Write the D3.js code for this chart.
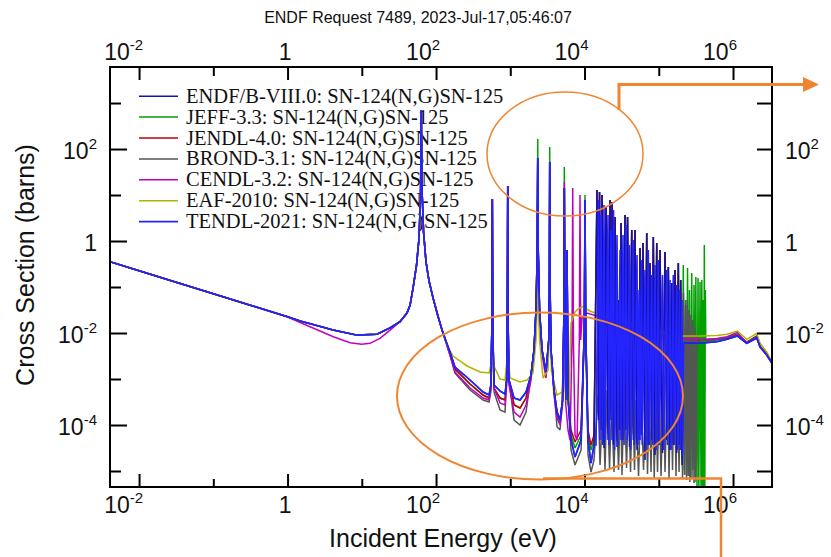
<!DOCTYPE html>
<html>
<head>
<meta charset="utf-8">
<script src="https://cdn.jsdelivr.net/npm/d3@7"></script>
<style>
  html, body { margin: 0; padding: 0; background: #fff; }
  svg { display: block; }
</style>
</head>
<body>
<svg id="chart" width="831" height="557"></svg>
<script>
// ---------------------------------------------------------------
// Sn-124(n,g)Sn-125 capture cross sections, energies in eV, sigma in barns
// ---------------------------------------------------------------

// 1/v region, shared by most evaluations
const lowRange = [[4.06e-3,0.355],[0.01,0.226],[0.03,0.130],[0.1,0.0715],[0.3,0.0413],[1,0.0226],[1.47,0.0182],[2.0,0.0160],[4.1,0.0116],[8.6,0.0090],[16,0.0094],[24,0.0129],[32.7,0.0176]];
// CENDL dips lower before the first resonance
const lowRangeCendl = [[4.06e-3,0.355],[0.01,0.226],[0.03,0.130],[0.1,0.0715],[0.3,0.0413],[1,0.0222],[2.01,0.0137],[4.14,0.00832],[6.95,0.00615],[9.98,0.00568],[12.9,0.00597],[17.6,0.00767],[24.0,0.0116],[32.7,0.0176]];
// the strong 62 eV resonance
const res62 = [[40.6,0.0272],[44.7,0.0406],[49.0,0.095],[54.6,0.30],[59.0,1.16],[61.9,10],[63.2,705],[64.8,12.9],[67.9,1.57],[73.3,0.349],[80.5,0.135],[91.2,0.0577],[106,0.0234],[120.5,0.0116]];

// resolved resonances 150 eV - 13 keV (common energy grid)
const midE = [154,180,287,430,518,547,564,573,582,604,728,849,893,912,924,934,961,1124,1353,1630,1901,2085,2221,2307,2343,2380,2479,2677,3029,3297,3360,3398,3440,3538,3882,4262,4677,5058,5260,5345,5431,5598,5806,6030,6582,7448,8982,9931,10154,10380,11143,12227,13417];
const midEndf = [0.00386,0.00182,0.000951,0.000521,0.000449,0.000741,0.0116,8.18,0.0116,0.000741,0.000548,0.000472,0.000951,0.0192,15.7,0.0192,0.000951,0.000386,0.000349,0.000521,0.00122,0.00427,0.0316,0.637,63.7,0.637,0.0316,0.00427,0.00142,0.00705,0.0861,52.2,0.0861,0.00427,0.000577,0.000191,0.000128,0.000349,0.0192,14.2,0.0192,0.000349,0.637,0.000349,4.72e-5,2.01e-5,4.72e-5,0.0116,7.79,0.0116,4.72e-5,1.49e-5,3.67e-5];
const midJeff = [0.00367,0.00165,0.000779,0.000449,0.000386,0.000637,0.0116,8.18,0.0116,0.000637,0.000386,0.000349,0.000951,0.0192,15.7,0.0192,0.000951,0.000272,0.000234,0.000386,0.00122,0.00427,0.0316,0.637,165,0.637,0.0316,0.00427,0.00142,0.00705,0.0861,110,0.0861,0.00427,0.000577,0.000165,0.000116,0.000349,0.0192,40.6,0.0192,0.000349,0.637,0.000349,6.06e-5,3.16e-5,6.06e-5,0.0116,10.0,0.0116,6.06e-5,2.86e-5,4.72e-5];
const midJendl = [0.00367,0.00165,0.000779,0.000449,0.000386,0.000637,0.0116,8.18,0.0116,0.000637,0.000386,0.000349,0.000951,0.0192,15.7,0.0192,0.000951,0.000272,0.000234,0.000386,0.00122,0.00427,0.0316,0.637,63.7,0.637,0.0316,0.00427,0.00142,0.00705,0.0861,52.2,0.0861,0.00427,0.000577,0.000191,0.000128,0.000349,0.0192,14.2,0.0192,0.000349,0.637,0.000349,7.78e-5,4.27e-5,7.78e-5,0.0116,7.79,0.0116,7.78e-5,3.67e-5,6.06e-5];
const midBrond = [0.00332,0.00135,0.000577,0.000349,0.000316,0.000521,0.0116,8.18,0.0116,0.000521,0.000212,0.000191,0.000951,0.0192,15.7,0.0192,0.000951,0.000128,0.0001,0.000191,0.00122,0.00427,0.0316,0.637,63.7,0.637,0.0316,0.00427,0.00142,0.00705,0.0861,52.2,0.0861,0.00427,0.000577,9.05e-5,7.78e-5,0.000349,0.0192,14.2,0.0192,0.000349,0.637,0.000349,2.86e-5,1.35e-5,2.86e-5,0.0116,7.79,0.0116,2.23e-5,9.51e-6,1.73e-5];

// dense resonance region 15 keV - 200 keV (common energy grid)
const denseE = [1.472e4,1.544e4,1.592e4,1.668e4,1.720e4,1.830e4,1.948e4,2.072e4,2.205e4,2.275e4,2.347e4,2.458e4,2.575e4,2.740e4,2.915e4,3.007e4,3.102e4,3.300e4,3.512e4,3.622e4,3.795e4,4.037e4,4.322e4,4.542e4,4.788e4,5.095e4,5.255e4,5.420e4,5.591e4,5.858e4,6.137e4,6.528e4,6.882e4,7.233e4,7.624e4,8.036e4,8.444e4,8.901e4,9.385e4,9.86e4,1.039e5,1.123e5,1.214e5,1.280e5,1.345e5,1.418e5,1.494e5,1.570e5,1.655e5,1.745e5,1.834e5,1.903e5,1.975e5,2.056e5];
const denseEndf = [12.8,1.28e-4,11.6,7.78e-5,10.0,3.16e-5,5.48,4.72e-5,7.79,1.28e-4,7.04,3.67e-5,3.32,3.32e-5,0.0521,7.78e-5,2.46,4.72e-5,3.67,7.78e-5,3.32,3.32e-5,1.73,4.72e-5,1.73,2.86e-5,0.0192,4.72e-5,0.704,6.06e-5,0.904,1.73e-5,1.49,3.67e-5,0.333,4.72e-5,1.22,2.23e-5,0.904,3.67e-5,0.637,2.46e-5,0.576,4.72e-5,0.272,2.86e-5,0.122,3.67e-5,0.234,2.46e-5,0.333,3.67e-5,0.142,1.35e-5];
const denseJeff = [12.8,1.7e-4,11.6,1.05e-4,10.0,4.3e-5,5.48,6.4e-5,7.79,1.7e-4,7.04,5.0e-5,3.32,4.5e-5,0.0521,1.05e-4,2.46,6.4e-5,3.67,1.05e-4,3.32,4.5e-5,1.73,6.4e-5,1.73,3.9e-5,0.0192,6.4e-5,0.704,8.2e-5,0.904,2.3e-5,1.49,5.0e-5,0.333,6.4e-5,1.22,3.0e-5,0.904,5.0e-5,0.637,3.3e-5,0.576,6.4e-5,0.272,3.9e-5,0.122,5.0e-5,0.234,3.3e-5,0.333,5.0e-5,0.142,1.8e-5];
const denseJendl = [12.8,2.3e-4,11.6,1.4e-4,10.0,5.7e-5,5.48,8.5e-5,7.79,2.3e-4,7.04,6.6e-5,3.32,6.0e-5,0.0521,1.4e-4,2.46,8.5e-5,3.67,1.4e-4,3.32,6.0e-5,1.73,8.5e-5,1.73,5.1e-5,0.0192,8.5e-5,0.704,1.1e-4,0.904,3.1e-5,1.49,6.6e-5,0.333,8.5e-5,1.22,4.0e-5,0.904,6.6e-5,0.637,4.4e-5,0.576,8.5e-5,0.272,5.1e-5,0.122,6.6e-5,0.234,4.4e-5,0.333,6.6e-5,0.142,2.4e-5];

// TENDL resonances in the dense region
const tendlDense = [[1.429e4,3.67e-5],[1.544e4,7.79],[1.617e4,4.72e-5],[1.668e4,3.67],[1.747e4,3.67e-5],[1.830e4,6.06],[1.888e4,4.72e-5],[2.072e4,3.67],[2.138e4,3.67e-5],[2.275e4,1.73],[2.347e4,4.72e-5],[2.458e4,4.72],[2.535e4,2.86e-5],[2.740e4,1.35],[2.826e4,3.67e-5],[3.007e4,0.637],[3.102e4,4.72e-5],[3.300e4,1.35],[3.404e4,3.67e-5],[3.622e4,2.23],[3.736e4,4.72e-5],[4.037e4,0.819],[4.165e4,2.86e-5],[4.542e4,1.05],[4.67e4,3.67e-5],[5.095e4,0.496],[5.255e4,3.67e-5],[5.420e4,0.0861],[5.591e4,4.72e-5],[5.858e4,0.386],[5.985e4,3.67e-5],[6.528e4,0.234],[6.734e4,2.86e-5],[7.233e4,0.637],[7.436e4,3.67e-5],[8.036e4,0.182],[8.24e4,3.67e-5],[8.901e4,0.301],[9.184e4,2.86e-5],[9.86e4,0.386],[1.014e5,3.67e-5],[1.123e5,0.182],[1.159e5,2.86e-5],[1.280e5,0.234],[1.312e5,3.67e-5],[1.418e5,0.142],[1.462e5,2.86e-5],[1.570e5,0.182],[1.615e5,3.67e-5],[1.745e5,0.111],[1.788e5,2.86e-5],[1.903e5,0.0861],[1.951e5,2.86e-5],[2.056e5,0.0521],[2.095e5,2.23e-5]];

// BROND resonances, 15 keV - 330 keV
const brondDense = [[1.520e4,0.000449],[1.617e4,1.35e-5],[1.773e4,0.000349],[1.888e4,1.05e-5],[2.009e4,0.000577],[2.171e4,1.16e-5],[2.310e4,0.000272],[2.496e4,9.51e-6],[2.656e4,0.000521],[2.870e4,1.05e-5],[3.053e4,0.000386],[3.200e4,8.19e-6],[3.404e4,0.000741],[3.679e4,1.16e-5],[3.913e4,0.000449],[4.165e4,9.51e-6],[4.431e4,0.000637],[4.714e4,1.05e-5],[4.926e4,0.000349],[5.337e4,7.79e-6],[5.767e4,0.000521],[6.233e4,1.05e-5],[6.692e4,0.000449],[7.055e4,8.61e-6],[7.436e4,0.000577],[7.862e4,9.51e-6],[8.24e4,0.000951],[8.683e4,7.05e-6],[9.127e4,0.000496],[9.62e4,9.51e-6],[1.014e5,0.000741],[1.072e5,7.79e-6],[1.159e5,0.000951],[1.214e5,9.51e-6],[1.312e5,0.00157],[1.374e5,7.05e-6],[1.462e5,0.00122],[1.532e5,1.05e-5],[1.615e5,0.00201],[1.707e5,7.79e-6],[1.788e5,0.00259],[1.874e5,9.51e-6],[1.993e5,0.00427],[2.089e5,7.05e-6],[2.154e5,0.0741],[2.222e5,8.19e-6],[2.292e5,0.0406],[2.364e5,6.37e-6],[2.424e5,0.0521],[2.492e5,7.79e-6],[2.555e5,0.0316],[2.622e5,5.77e-6],[2.718e5,0.0246],[2.804e5,7.05e-6],[2.877e5,0.0192],[2.983e5,5.49e-6],[3.077e5,0.0135],[3.157e5,6.37e-6],[3.254e5,0.00905]];

// JEFF resonances continue up to about 420 keV
const jeffHigh = [[2.141e5,0.301],[2.209e5,1.05e-5],[2.292e5,0.0521],[2.364e5,8.19e-6],[2.439e5,0.259],[2.516e5,1.05e-5],[2.595e5,0.0861],[2.677e5,7.05e-6],[2.778e5,0.202],[2.877e5,1.05e-5],[2.983e5,0.111],[3.077e5,5.77e-6],[3.157e5,0.165],[3.274e5,3.9e-6],[3.378e5,0.157],[3.464e5,3.9e-6],[3.594e5,0.128],[3.707e5,3.9e-6],[3.80e5,0.142],[3.896e5,3.9e-6],[3.981e5,0.0521],[4.043e5,3.9e-6],[4.106e5,0.819],[4.171e5,3.9e-6],[4.236e5,0.0861]];

// CENDL: own resonances, smooth above 9 keV
const cendlMid = [[154,0.00332],[180,0.00142],[287,0.000637],[430,0.000386],[518,0.000349],[547,0.000637],[564,0.0116],[573,8.18],[582,0.0116],[604,0.000637],[728,0.000301],[849,0.000272],[893,0.000741],[912,0.0192],[924,15.7],[934,0.0192],[961,0.000741],[1124,0.000192],[1353,0.000149],[1630,0.000272],[1901,0.000951],[2085,0.00386],[2221,0.0286],[2307,0.496],[2343,44.9],[2380,0.496],[2479,0.0286],[2677,0.00332],[3029,0.00105],[3297,0.00548],[3360,0.067],[3398,34.9],[3440,0.067],[3538,0.00386],[3882,0.000449],[4262,0.000142],[4677,0.0001],[5058,0.000272],[5260,0.0192],[5345,19.2],[5431,0.0192],[5598,0.000272],[5994,7.78e-5],[6378,4.72e-5],[6786,0.00705],[6937,14.2],[7088,0.00705],[7448,6.06e-5],[7925,4.72e-5],[8511,0.00705],[8697,10.0],[8887,0.00705],[9254,0.0212],[10807,0.0272],[16157,0.0223],[22050,0.0192],[37278,0.0142],[76240,0.00905],[2.056e5,0.00741]];

// EAF: broadened resonances, smooth above 6.5 keV
const eafMid = [[140.6,0.00548],[169.4,0.00316],[261.5,0.00192],[392,0.00142],[518,0.00135],[559,0.00234],[573,0.00332],[595,0.00201],[728,0.001],[849,0.000951],[924,0.00386],[993,0.00105],[1353,0.00086],[1681,0.000951],[2024,0.00135],[2221,0.00705],[2343,0.0861],[2479,0.00705],[2761,0.00105],[3224,0.00157],[3398,0.0192],[3594,0.00142],[4262,0.000449],[4976,0.000521],[5345,0.00548],[5722,0.000349],[6183,0.000246],[6476,0.00905],[6582,0.0165],[7448,0.0286],[8176,0.0332],[9254,0.0377],[11862,0.0301],[16157,0.0246],[37278,0.0165],[1.036e5,0.0105],[2.056e5,0.00839]];

// fast-neutron tails
const tailE = [2.148e5,3.594e5,6.03e5,8.30e5,1.143e6,1.530e6,2.085e6,2.31e6,2.845e6,3.35e6];
const tailEndf = [0.00615,0.00597,0.00647,0.00730,0.00861,0.00597,0.00790,0.00504,0.00332,0.00220];
const tailJendl = [0.00705,0.00687,0.00741,0.00798,0.00951,0.00637,0.00861,0.00522,0.0035,0.00229];
const tailCendl = [0.00741,0.00722,0.00759,0.00831,0.01036,0.00597,0.00767,0.00496,0.00332,0.00220];
const tailEaf = [0.00861,0.00861,0.00882,0.00937,0.01105,0.00730,0.00985,0.00606,0.00386,0.00238];
const tailJeff = [[4.30e5,0.00653],[6.03e5,0.00705],[8.30e5,0.00767],[1.143e6,0.00905],[1.530e6,0.00615],[2.085e6,0.00831],[2.31e6,0.00504],[2.845e6,0.0035],[3.35e6,0.00226]];
const tailBrond = [[3.594e5,0.00687],[6.03e5,0.00722],[8.30e5,0.00779],[1.143e6,0.00928],[1.530e6,0.00622],[2.085e6,0.00839],[2.31e6,0.00509],[2.845e6,0.00341],[3.35e6,0.00223]];

// axis ticks
const xMajor = [1e-2, 1, 1e2, 1e4, 1e6];
const xMinor = [1e-1, 10, 1e3, 1e5];
const yMajor = [1e-4, 1e-2, 1, 1e2];
const yMinor = [1e-5, 1e-3, 1e-1, 10, 1e3];
const xLabels = [["10","-2"],["1",""],["10","2"],["10","4"],["10","6"]];
const yLabels = [["10","-4"],["10","-2"],["1",""],["10","2"]];

const titleText = "ENDF Request 7489, 2023-Jul-17,05:46:07";
const xTitle = "Incident Energy (eV)";
const yTitle = "Cross Section (barns)";

// ---------------------------------------------------------------
const pairs = (es, vs) => es.map((e, i) => [e, vs[i]]);

const series = {
  endf:  { label: "ENDF/B-VIII.0: SN-124(N,G)SN-125", color: "#1212a8", width: 1.5,
           pts: [...lowRange, ...res62, ...pairs(midE, midEndf), ...pairs(denseE, denseEndf), ...pairs(tailE, tailEndf)] },
  jeff:  { label: "JEFF-3.3: SN-124(N,G)SN-125", color: "#00a000", width: 1.5,
           pts: [...lowRange, ...res62, ...pairs(midE, midJeff), ...pairs(denseE, denseJeff), ...jeffHigh, ...tailJeff] },
  jendl: { label: "JENDL-4.0: SN-124(N,G)SN-125", color: "#c00000", width: 1.5,
           pts: [...lowRange, ...res62, ...pairs(midE, midJendl), ...pairs(denseE, denseJendl), ...pairs(tailE, tailJendl)] },
  brond: { label: "BROND-3.1: SN-124(N,G)SN-125", color: "#555555", width: 1.5,
           pts: [...lowRange, ...res62, ...pairs(midE, midBrond), ...brondDense, ...tailBrond] },
  cendl: { label: "CENDL-3.2: SN-124(N,G)SN-125", color: "#c000c0", width: 1.5,
           pts: [...lowRangeCendl, ...res62, ...cendlMid, ...pairs(tailE, tailCendl)] },
  eaf:   { label: "EAF-2010: SN-124(N,G)SN-125", color: "#b4b400", width: 1.5,
           pts: [...lowRange, ...res62, ...eafMid, ...pairs(tailE, tailEaf)] },
  tendl: { label: "TENDL-2021: SN-124(N,G)SN-125", color: "#2424ff", width: 1.6,
           pts: [...lowRange, ...res62, ...pairs(midE, midEndf), ...tendlDense, ...pairs(tailE, tailEndf)] }
};
const legendOrder = ["endf", "jeff", "jendl", "brond", "cendl", "eaf", "tendl"];
const drawOrder = ["jeff", "jendl", "brond", "cendl", "eaf", "endf", "tendl"];

// ---------------------------------------------------------------
const svg = d3.select("#chart");
const plot = { left: 110, top: 67, right: 772, bottom: 487 };

const x = d3.scaleLog().domain([4.06e-3, 3.35e6]).range([plot.left, plot.right]);
const y = d3.scaleLog().domain([4.49e-6, 6070]).range([plot.bottom, plot.top]);

svg.append("rect").attr("width", 831).attr("height", 557).attr("fill", "#fff");

svg.append("defs").append("clipPath").attr("id", "plotClip")
  .append("rect")
  .attr("x", plot.left).attr("y", plot.top)
  .attr("width", plot.right - plot.left).attr("height", plot.bottom - plot.top);

// title
svg.append("text")
  .attr("x", 418).attr("y", 23)
  .attr("text-anchor", "middle")
  .attr("font-family", "'Liberation Sans', Arial, sans-serif")
  .attr("font-size", 16)
  .attr("fill", "#111")
  .text(titleText);

// legend (drawn beneath the curves)
const legend = svg.append("g");
legendOrder.forEach((k, i) => {
  const s = series[k];
  const base = 102.7 + i * 20.9;
  legend.append("line")
    .attr("x1", 139).attr("x2", 178)
    .attr("y1", base - 6.5).attr("y2", base - 6.5)
    .attr("stroke", s.color).attr("stroke-width", s.width);
  legend.append("text")
    .attr("x", 186).attr("y", base)
    .attr("font-family", "'Liberation Serif', 'Times New Roman', serif")
    .attr("font-size", 20.5)
    .attr("fill", "#111")
    .text(s.label);
});

// curves
const line = d3.line().x(d => x(d[0])).y(d => y(d[1]));
const curves = svg.append("g").attr("clip-path", "url(#plotClip)");
drawOrder.forEach(k => {
  const s = series[k];
  curves.append("path")
    .datum(s.pts)
    .attr("d", line)
    .attr("fill", "none")
    .attr("stroke", s.color)
    .attr("stroke-width", s.width)
    .attr("stroke-linejoin", "miter")
    .attr("stroke-miterlimit", 2);
});

// axes: ticks point inward on all four sides
function drawAxis(axisGen, tx, ty) {
  const g = svg.append("g").attr("transform", `translate(${tx},${ty})`).call(axisGen);
  g.select(".domain").remove();
  g.selectAll(".tick text").remove();
  g.selectAll(".tick line").attr("stroke", "#000").attr("stroke-width", 2);
}
drawAxis(d3.axisBottom(x).tickValues(xMajor).tickSize(-13), 0, plot.bottom);
drawAxis(d3.axisBottom(x).tickValues(xMinor).tickSize(-8), 0, plot.bottom);
drawAxis(d3.axisTop(x).tickValues(xMajor).tickSize(-13), 0, plot.top);
drawAxis(d3.axisTop(x).tickValues(xMinor).tickSize(-9), 0, plot.top);
drawAxis(d3.axisLeft(y).tickValues(yMajor).tickSize(-17), plot.left, 0);
drawAxis(d3.axisLeft(y).tickValues(yMinor).tickSize(-11), plot.left, 0);
drawAxis(d3.axisRight(y).tickValues(yMajor).tickSize(-15), plot.right, 0);
drawAxis(d3.axisRight(y).tickValues(yMinor).tickSize(-15), plot.right, 0);

svg.append("rect")
  .attr("x", plot.left).attr("y", plot.top)
  .attr("width", plot.right - plot.left).attr("height", plot.bottom - plot.top)
  .attr("fill", "none").attr("stroke", "#000").attr("stroke-width", 2);

// tick labels: base with superscript exponent
const labelFont = "'Liberation Sans', Arial, sans-serif";
function powLabel(g, px, py, anchor, parts) {
  const t = g.append("text")
    .attr("x", px).attr("y", py)
    .attr("text-anchor", anchor)
    .attr("font-family", labelFont)
    .attr("font-size", 23)
    .attr("fill", "#111");
  t.append("tspan").text(parts[0]);
  if (parts[1]) t.append("tspan").attr("dy", -10).attr("font-size", 15).text(parts[1]);
}
const labels = svg.append("g");
xMajor.forEach((v, i) => {
  powLabel(labels, x(v) + 4, 513, "end", xLabels[i]);
  powLabel(labels, x(v) + 4, 60, "end", xLabels[i]);
});
yMajor.forEach((v, i) => {
  powLabel(labels, 97, y(v) + 10, "end", yLabels[i]);
  powLabel(labels, 785, y(v) + 10, "start", yLabels[i]);
});

// axis titles
svg.append("text")
  .attr("x", 443).attr("y", 547)
  .attr("text-anchor", "middle")
  .attr("font-family", labelFont).attr("font-size", 25).attr("fill", "#111")
  .text(xTitle);
svg.append("text")
  .attr("transform", "translate(34,265) rotate(-90)")
  .attr("text-anchor", "middle")
  .attr("font-family", labelFont).attr("font-size", 25).attr("fill", "#111")
  .text(yTitle);

// highlighted regions with callouts
const orange = "#f0852f";
const notes = svg.append("g").attr("fill", "none").attr("stroke", orange);
notes.append("ellipse").attr("cx", 565).attr("cy", 154).attr("rx", 78).attr("ry", 62).attr("stroke-width", 1.5);
notes.append("polyline").attr("points", "619,110 619,84.5 806,84.5").attr("stroke-width", 3);
svg.append("path").attr("d", "M803,77 L819,84.5 L803,92 Z").attr("fill", orange);
notes.append("ellipse").attr("cx", 540).attr("cy", 396).attr("rx", 143).attr("ry", 83.5).attr("stroke-width", 2);
notes.append("polyline").attr("points", "543,478.5 721,478.5 721,557").attr("stroke-width", 2.5);
</script>
</body>
</html>
